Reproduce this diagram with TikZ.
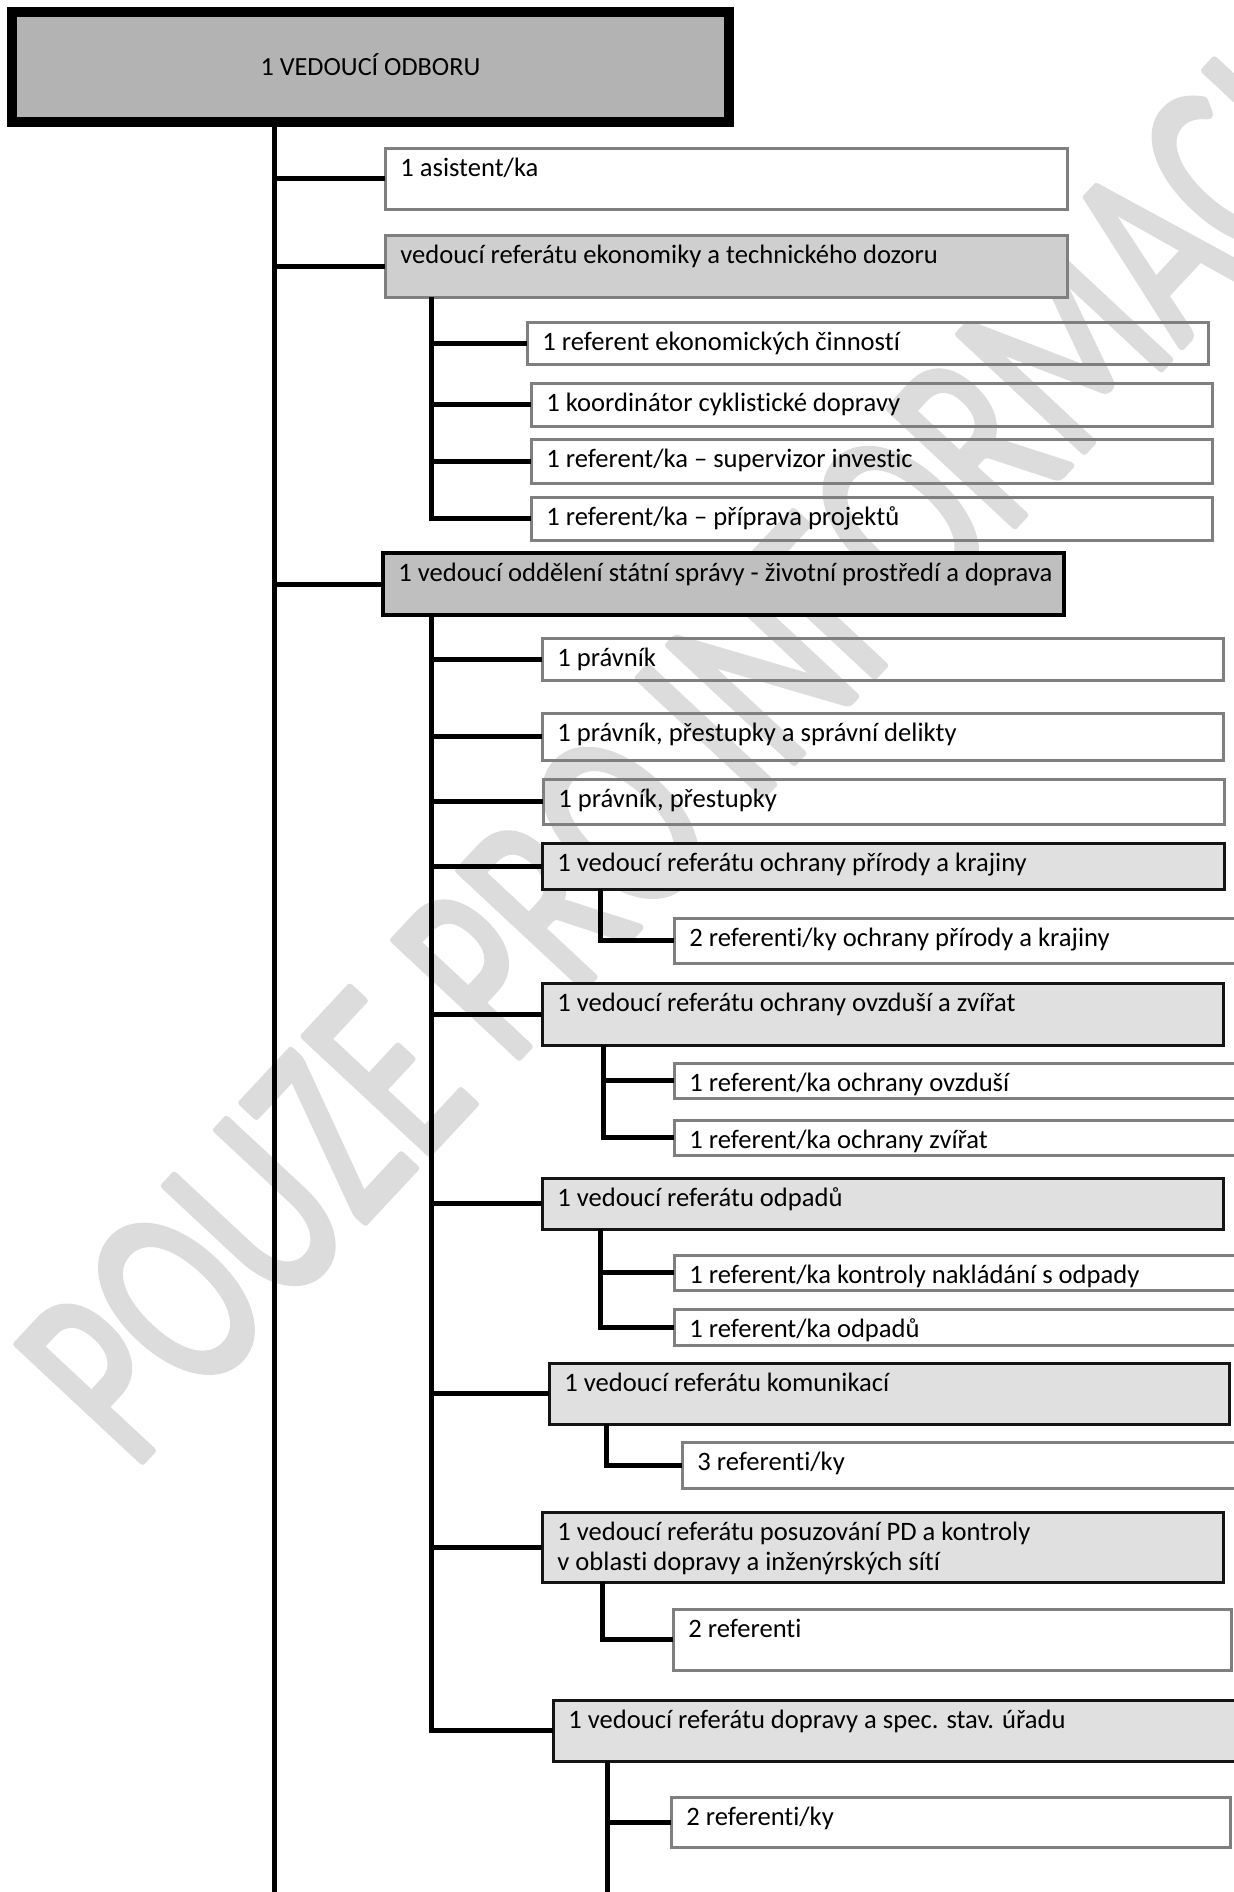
\documentclass[tikz,border=0pt]{standalone}
\usepackage{fontspec}
\setmainfont{Carlito}[Ligatures=CommonOff]
\definecolor{boxgray}{HTML}{7F7F7F}
\definecolor{ekfill}{HTML}{CFCFCF}
\definecolor{oddfill}{HTML}{BFBFBF}
\definecolor{leadfill}{HTML}{E0E0E0}
\definecolor{topfill}{HTML}{B3B3B3}
\definecolor{wmgray}{HTML}{DCDCDC}
\newcommand{\orgbox}[7]{%
  \node[#1, anchor=north west, minimum width={(#5-#3)*0.5pt}, minimum height={(#6-#4)*0.5pt}] (#2) at (#3,#4) {};
  \node[lbl] (#2-t) at ([xshift=7.5pt, yshift=-14pt]#2.north west) {#7};}
\newcommand{\roundtext}[1]{\special{pdf:literal direct q 2 Tr 2.5 w 1 j}#1\special{pdf:literal direct Q}}
\tikzset{
  x=0.5pt, y=-0.5pt,
  basebox/.style={rectangle, outer sep=0pt, inner sep=0pt},
  wbox/.style={basebox, draw=boxgray, line width=1.5pt},
  gbox/.style={basebox, draw=boxgray, fill=ekfill, line width=1.5pt},
  dbox/.style={basebox, draw=black, fill=oddfill, line width=1.75pt},
  lbox/.style={basebox, draw=black!92, fill=leadfill, line width=1.5pt},
  topbox/.style={basebox, draw=black, fill=topfill, line width=5pt},
  lbl/.style={anchor=base west, inner sep=0pt, font=\fontsize{13.3}{16}\selectfont},
  conn/.style={line width=2.5pt, black, line join=miter},
  wm/.style={inner sep=0pt, text=wmgray, font=\fontsize{92}{100}\selectfont},
}
\begin{document}
\begin{tikzpicture}
\useasboundingbox (0,0) rectangle (1233,1892);
% watermark
\begin{scope}[shift={(679,760)}]
  \node[wm, rotate=47, yscale=1.45, transform shape] (wm) at (0,0) {\roundtext{POUZE PRO INFORMACI}};
\end{scope}
% boxes
\node[topbox, anchor=north west, minimum width={(729-12)*0.5pt}, minimum height={(122-12)*0.5pt}] (top) at (12,12) {};
\node[anchor=base, inner sep=0pt, font=\fontsize{13.1}{16}\selectfont] (top-t) at ([yshift=-4.2pt]top.center) {1 VEDOUCÍ ODBORU};
\orgbox{wbox}{asis}{385}{148}{1067}{209}{1 asistent/ka}
\orgbox{gbox}{ekon}{385}{235}{1067}{297}{vedoucí referátu ekonomiky a technického dozoru}
\orgbox{wbox}{ek1}{527}{322}{1208}{364}{1 referent ekonomických činností}
\orgbox{wbox}{ek2}{531}{383}{1212}{426}{1 koordinátor cyklistické dopravy}
\orgbox{wbox}{ek3}{531}{439}{1212}{483}{1 referent/ka – supervizor investic}
\orgbox{wbox}{ek4}{531}{497}{1212}{540}{1 referent/ka – příprava projektů}
\orgbox{dbox}{odd}{383}{553}{1064}{615}{1 vedoucí oddělení státní správy - životní prostředí a doprava}
\orgbox{wbox}{pr1}{542}{638}{1223}{680}{1 právník}
\orgbox{wbox}{pr2}{542}{713}{1223}{760}{1 právník, přestupky a správní delikty}
\orgbox{wbox}{pr3}{543}{779}{1224}{824}{1 právník, přestupky}
\orgbox{lbox}{ochp}{542}{843}{1224}{889}{1 vedoucí referátu ochrany přírody a krajiny}
\orgbox{wbox}{ochpa}{674}{918}{1242}{963}{2 referenti/ky ochrany přírody a krajiny}
\orgbox{lbox}{ovz}{542}{983}{1223}{1045}{1 vedoucí referátu ochrany ovzduší a zvířat}
\orgbox{wbox}{ovza}{674}{1063}{1242}{1098}{1 referent/ka ochrany ovzduší}
\orgbox{wbox}{ovzb}{674}{1120}{1242}{1155}{1 referent/ka ochrany zvířat}
\orgbox{lbox}{odp}{542}{1178}{1223}{1229}{1 vedoucí referátu odpadů}
\orgbox{wbox}{odpa}{674}{1255}{1242}{1290}{1 referent/ka kontroly nakládání s odpady}
\orgbox{wbox}{odpb}{674}{1309}{1242}{1345}{1 referent/ka odpadů}
\orgbox{lbox}{kom}{549}{1363}{1229}{1424}{1 vedoucí referátu komunikací}
\orgbox{wbox}{koma}{682}{1442}{1242}{1488}{3 referenti/ky}
\orgbox{lbox}{pos}{542}{1512}{1223}{1582}{1 vedoucí referátu posuzování PD a kontroly}
\node[lbl] (pos-t2) at ([yshift=-15pt]pos-t.base west) {v oblasti dopravy a inženýrských sítí};
\orgbox{wbox}{posa}{673}{1609}{1231}{1670}{2 referenti}
\orgbox{lbox}{dop}{553}{1700}{1242}{1761}{1 vedoucí referátu dopravy a spec. stav. úřadu}
\orgbox{wbox}{dopa}{671}{1797}{1230}{1847}{2 referenti/ky}
% spines
\coordinate (m0) at (274,124);
\coordinate (mend) at (274,1900);
\coordinate (s1) at (431,297);
\coordinate (s2) at (431,615);
\coordinate (s3) at (600,889);
\coordinate (s4) at (603,1045);
\coordinate (s5) at (600,1229);
\coordinate (s6) at (606,1424);
\coordinate (s7) at (602,1582);
\coordinate (s8) at (607,1761);
\coordinate (s8end) at (607,1900);
% main spine
\draw[conn] (m0) -- (mend);
\draw[conn] (m0 |- asis.west) -- (asis.west);
\draw[conn] (m0 |- ekon.west) -- (ekon.west);
\draw[conn] (m0 |- odd.west) -- (odd.west);
% ekonomiky
\draw[conn] (s1) |- (ek4.west);
\draw[conn] (s1 |- ek1.west) -- (ek1.west);
\draw[conn] (s1 |- ek2.west) -- (ek2.west);
\draw[conn] (s1 |- ek3.west) -- (ek3.west);
% oddeleni
\draw[conn] (s2) |- (dop.west);
\draw[conn] (s2 |- pr1.west) -- (pr1.west);
\draw[conn] (s2 |- pr2.west) -- (pr2.west);
\draw[conn] (s2 |- pr3.west) -- (pr3.west);
\draw[conn] (s2 |- ochp.west) -- (ochp.west);
\draw[conn] (s2 |- ovz.west) -- (ovz.west);
\draw[conn] (s2 |- odp.west) -- (odp.west);
\draw[conn] (s2 |- kom.west) -- (kom.west);
\draw[conn] (s2 |- pos.west) -- (pos.west);
% sub-units
\draw[conn] (s3) |- (ochpa.west);
\draw[conn] (s4) |- (ovzb.west);
\draw[conn] (s4 |- ovza.west) -- (ovza.west);
\draw[conn] (s5) |- (odpb.west);
\draw[conn] (s5 |- odpa.west) -- (odpa.west);
\draw[conn] (s6) |- (koma.west);
\draw[conn] (s7) |- (posa.west);
\draw[conn] (s8) -- (s8end);
\draw[conn] (s8 |- dopa.west) -- (dopa.west);
\end{tikzpicture}
\end{document}
